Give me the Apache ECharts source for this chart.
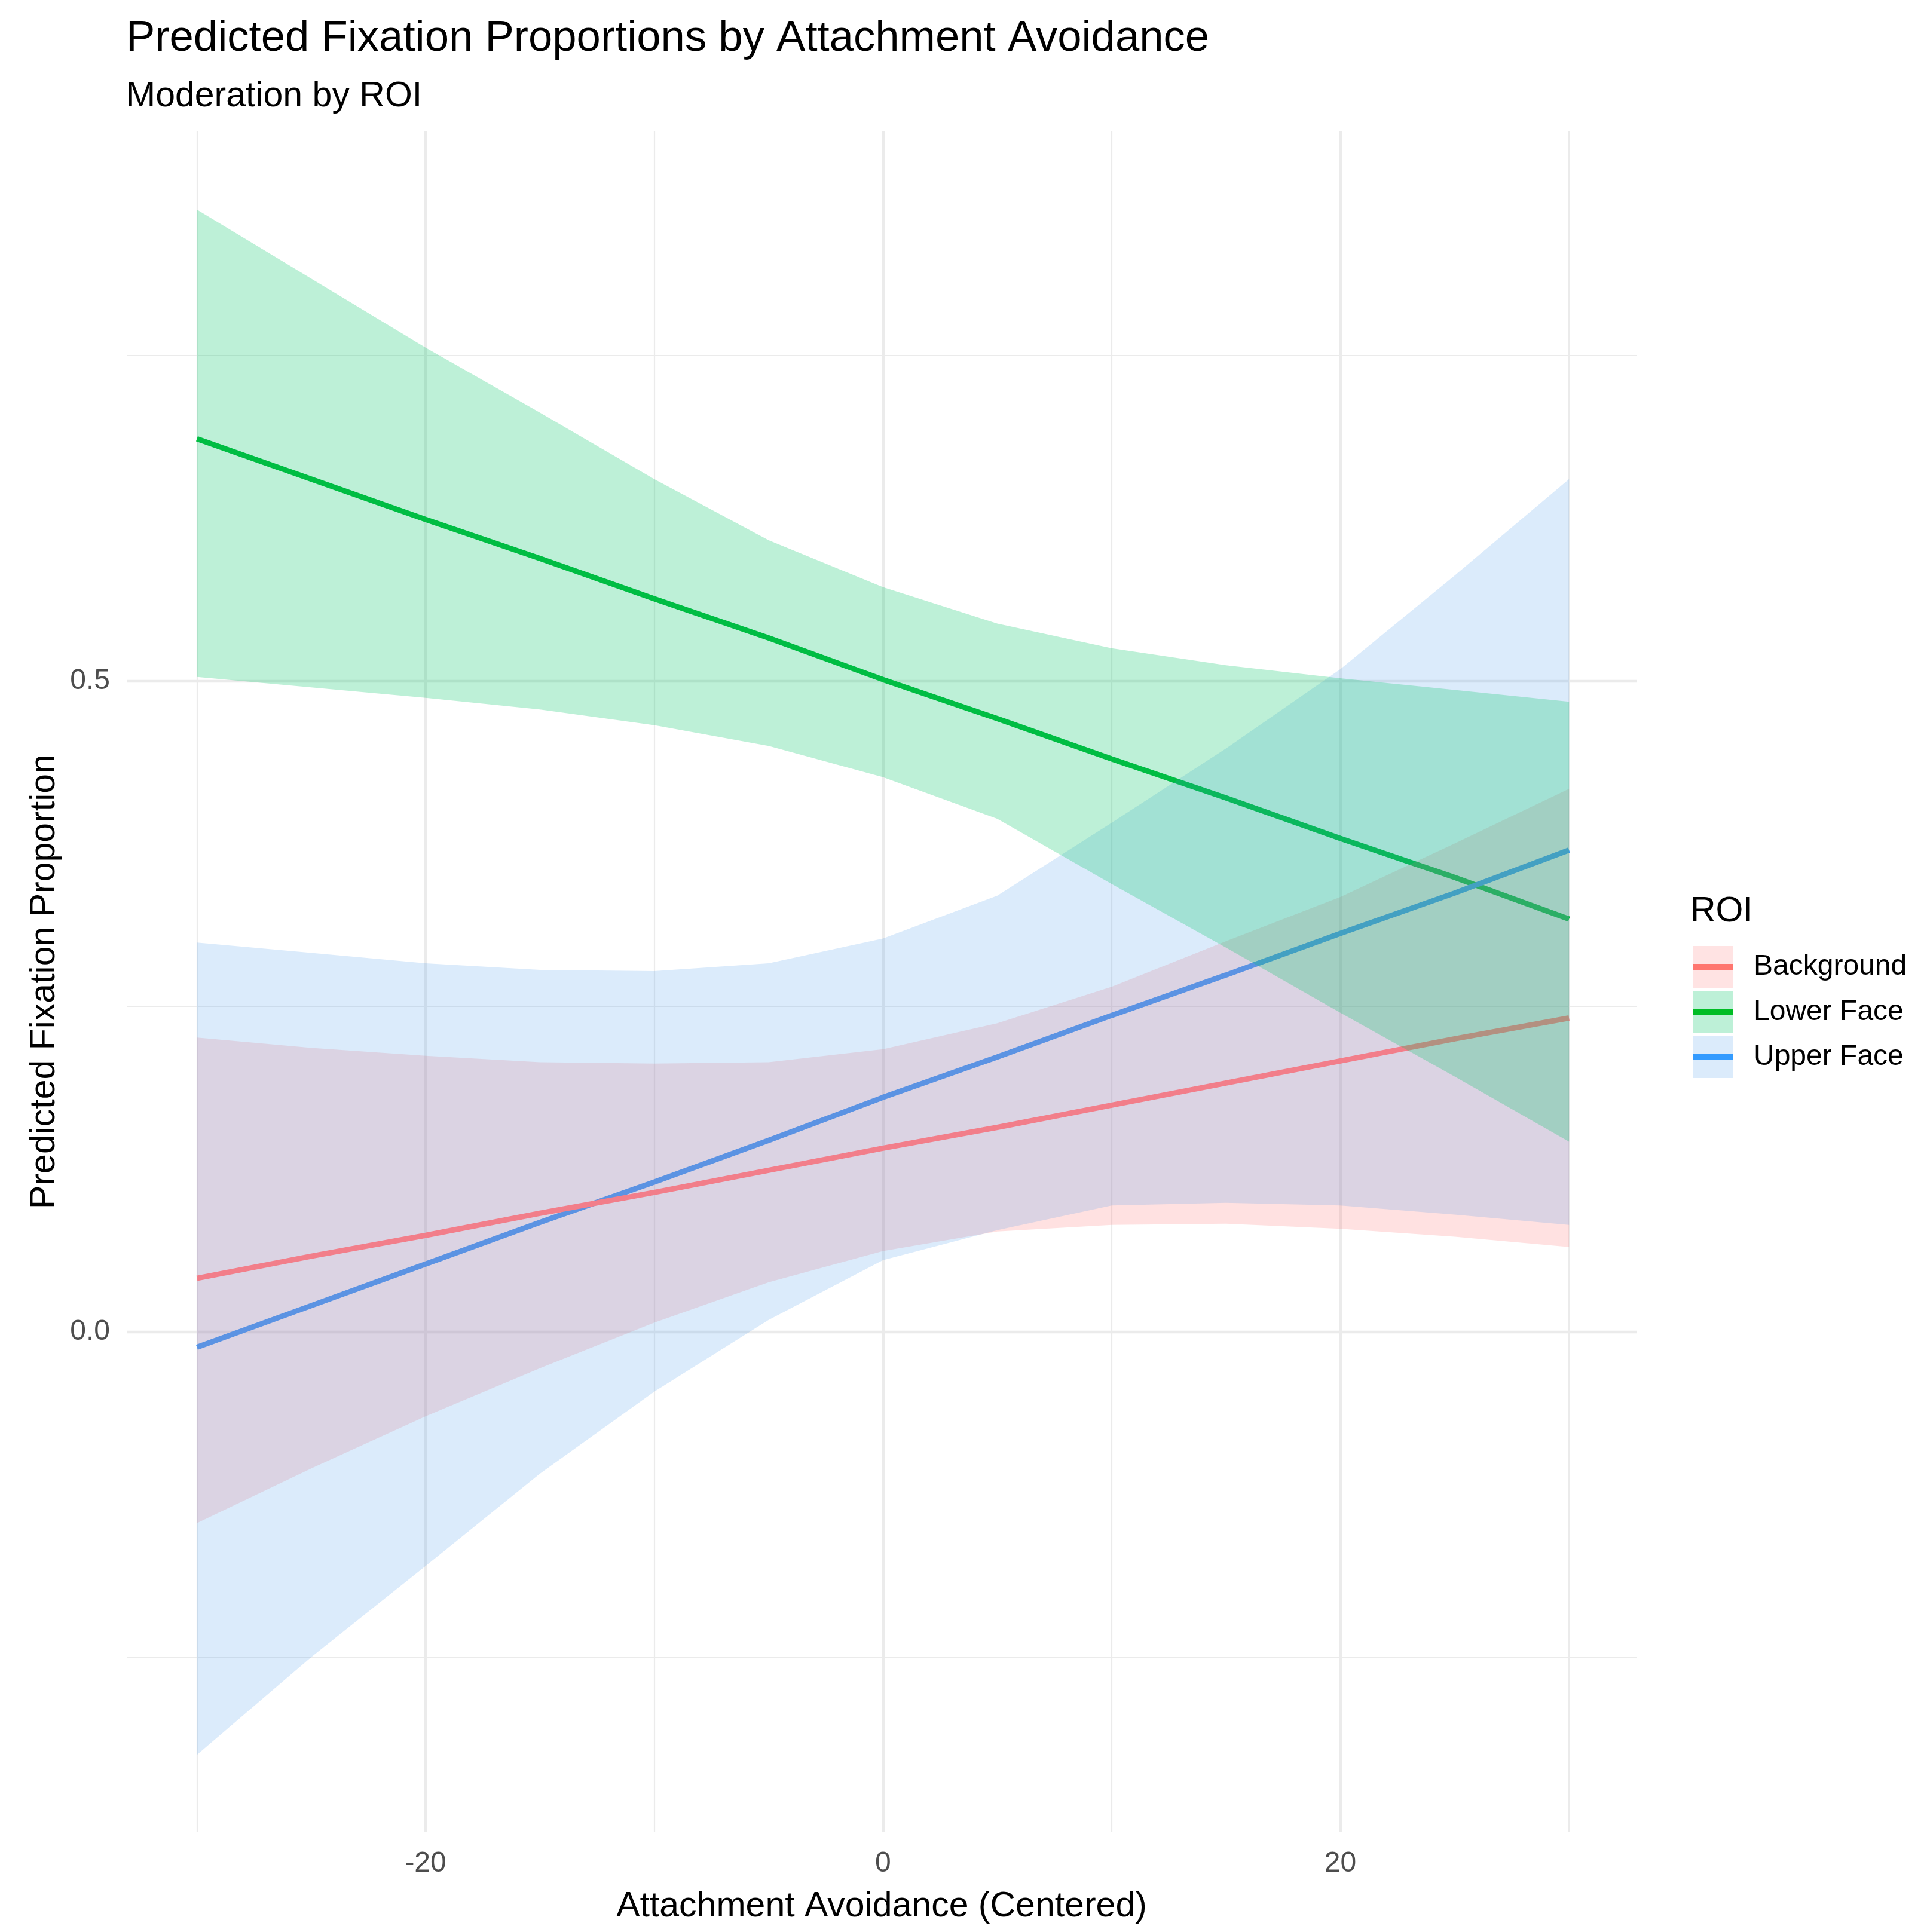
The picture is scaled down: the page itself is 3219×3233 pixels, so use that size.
<!DOCTYPE html>
<html>
<head>
<meta charset="utf-8">
<title>Predicted Fixation Proportions by Attachment Avoidance</title>
<script src="https://cdn.jsdelivr.net/npm/echarts@6.0.0/dist/echarts.min.js"></script>
<style>
  html, body { margin: 0; padding: 0; background: #fff; }
  #main { width: 3219px; height: 3233px; }
</style>
</head>
<body>
<div id="main"></div>
<script>
// x 取值（中心化后的依恋回避）
const avoidance = [-30, -25, -20, -15, -10, -5, 0, 5, 10, 15, 20, 25, 30]

// 预测值（每个 ROI 一条直线）
const backgroundFit = [0.041, 0.058, 0.074, 0.091, 0.107, 0.124, 0.141, 0.157, 0.174, 0.191, 0.208, 0.225, 0.241]
const lowerFaceFit = [0.686, 0.655, 0.624, 0.594, 0.563, 0.533, 0.501, 0.471, 0.440, 0.410, 0.379, 0.349, 0.317]
const upperFaceFit = [-0.012, 0.020, 0.052, 0.084, 0.115, 0.147, 0.180, 0.211, 0.243, 0.274, 0.306, 0.337, 0.370]

// 置信带 下限 / 上限
const backgroundLow = [-0.147, -0.105, -0.065, -0.028, 0.007, 0.038, 0.062, 0.077, 0.082, 0.083, 0.079, 0.073, 0.065]
const backgroundHigh = [0.226, 0.218, 0.212, 0.207, 0.206, 0.207, 0.217, 0.237, 0.265, 0.300, 0.334, 0.375, 0.417]
const lowerFaceLow = [0.503, 0.495, 0.487, 0.478, 0.466, 0.450, 0.426, 0.394, 0.344, 0.295, 0.245, 0.196, 0.146]
const lowerFaceHigh = [0.862, 0.809, 0.756, 0.706, 0.655, 0.608, 0.572, 0.544, 0.525, 0.512, 0.502, 0.493, 0.484]
const upperFaceLow = [-0.325, -0.250, -0.180, -0.109, -0.046, 0.009, 0.055, 0.078, 0.097, 0.099, 0.097, 0.090, 0.082]
const upperFaceHigh = [0.299, 0.291, 0.283, 0.278, 0.277, 0.283, 0.302, 0.335, 0.391, 0.448, 0.509, 0.581, 0.655]

// 类别与刻度
const roiNames = ['Background', 'Lower Face', 'Upper Face']
const xTickLabels = [-20, 0, 20]
const yTickLabels = [0, 0.5]
const xMinorGrid = [-30, -10, 10, 30]
const yMinorGrid = [-0.25, 0.25, 0.75]

const FONT = "'Liberation Sans', Arial, sans-serif"

document.addEventListener('DOMContentLoaded', () => {
  drawChart()
})

// 置信带：用自定义系列画多边形
function band(name, low, high, fill, z) {
  return {
    name: name,
    type: 'custom',
    z: z,
    silent: true,
    itemStyle: { color: fill },
    data: avoidance.map((x, i) => [x, low[i], high[i]]),
    encode: { x: 0, y: [1, 2] },
    renderItem: function (params, api) {
      if (params.dataIndex !== 0) return null
      var pts = []
      for (var i = 0; i < avoidance.length; i++) {
        pts.push(api.coord([avoidance[i], high[i]]))
      }
      for (var j = avoidance.length - 1; j >= 0; j--) {
        pts.push(api.coord([avoidance[j], low[j]]))
      }
      return {
        type: 'polygon',
        shape: { points: pts },
        style: { fill: fill }
      }
    }
  }
}

function fitLine(name, values, color, z) {
  return {
    name: name,
    type: 'line',
    z: z,
    silent: true,
    showSymbol: false,
    data: avoidance.map((x, i) => [x, values[i]]),
    lineStyle: { color: color, width: 9 },
    itemStyle: { color: color }
  }
}

// 图例色块：浅色底 + 中间一条线
function keyFill(fill, line) {
  return {
    type: 'linear', x: 0, y: 0, x2: 0, y2: 1,
    colorStops: [
      { offset: 0, color: fill },
      { offset: 0.43, color: fill },
      { offset: 0.43, color: line },
      { offset: 0.57, color: line },
      { offset: 0.57, color: fill },
      { offset: 1, color: fill }
    ]
  }
}

function drawChart() {
  var chartDom = document.getElementById('main')
  var myChart = echarts.init(chartDom)
  var option

  var gridColor = '#EBEBEB'
  var gridLines = []
  xTickLabels.forEach(v => gridLines.push({ xAxis: v, lineStyle: { width: 4.4 } }))
  xMinorGrid.forEach(v => gridLines.push({ xAxis: v, lineStyle: { width: 2.2 } }))
  yTickLabels.forEach(v => gridLines.push({ yAxis: v, lineStyle: { width: 4.4 } }))
  yMinorGrid.forEach(v => gridLines.push({ yAxis: v, lineStyle: { width: 2.2 } }))

  option = {
    backgroundColor: '#ffffff',
    animation: false,
    textStyle: { fontFamily: FONT },
    title: [
      {
        text: 'Predicted Fixation Proportions by Attachment Avoidance',
        left: 211,
        top: 28,
        padding: 0,
        textStyle: { fontSize: 72.5, fontWeight: 'normal', color: '#000', fontFamily: FONT }
      },
      {
        text: 'Moderation by ROI',
        left: 211,
        top: 132,
        padding: 0,
        textStyle: { fontSize: 59, fontWeight: 'normal', color: '#000', fontFamily: FONT }
      },
      {
        text: 'ROI',
        left: 2828,
        top: 1496,
        padding: 0,
        textStyle: { fontSize: 59, fontWeight: 'normal', color: '#000', fontFamily: FONT }
      }
    ],
    legend: {
      orient: 'vertical',
      left: 2832,
      top: 1583,
      padding: 0,
      itemGap: 5.5,
      itemWidth: 67,
      itemHeight: 70,
      icon: 'rect',
      selectedMode: false,
      textStyle: { fontSize: 48, color: '#000', fontFamily: FONT, padding: [8, 0, 0, 30] },
      data: [
        { name: roiNames[0], itemStyle: { color: keyFill('#FFE3E3', '#FF766F') } },
        { name: roiNames[1], itemStyle: { color: keyFill('#BDF0D7', '#00BD25') } },
        { name: roiNames[2], itemStyle: { color: keyFill('#DBEBFB', '#339BFF') } }
      ]
    },
    grid: {
      left: 212,
      right: 481,
      top: 219,
      bottom: 167
    },
    xAxis: {
      type: 'value',
      min: -33.07,
      max: 32.95,
      name: 'Attachment Avoidance (Centered)',
      nameLocation: 'middle',
      nameGap: 95,
      nameTextStyle: { fontSize: 59, color: '#000', fontFamily: FONT },
      axisLine: { show: false },
      axisTick: { show: false },
      splitLine: { show: false },
      axisLabel: {
        customValues: xTickLabels,
        margin: 29,
        fontSize: 48,
        color: '#4D4D4D',
        fontFamily: FONT
      }
    },
    yAxis: {
      type: 'value',
      min: -0.3845,
      max: 0.9225,
      name: 'Predicted Fixation Proportion',
      nameLocation: 'middle',
      nameGap: 108,
      nameTextStyle: { fontSize: 59, color: '#000', fontFamily: FONT },
      axisLine: { show: false },
      axisTick: { show: false },
      splitLine: { show: false },
      axisLabel: {
        customValues: yTickLabels,
        margin: 28,
        fontSize: 48,
        color: '#4D4D4D',
        fontFamily: FONT,
        formatter: v => v.toFixed(1)
      }
    },
    series: [
      // 置信带放在前面，图例取它们的样式
      band(roiNames[0], backgroundLow, backgroundHigh, 'rgba(255,120,120,0.22)', 3),
      band(roiNames[1], lowerFaceLow, lowerFaceHigh, 'rgba(0,197,101,0.26)', 5),
      band(roiNames[2], upperFaceLow, upperFaceHigh, 'rgba(75,155,235,0.2)', 3),
      fitLine(roiNames[0], backgroundFit, '#F27E8A', 4),
      fitLine(roiNames[1], lowerFaceFit, '#00BA38', 2),
      fitLine(roiNames[2], upperFaceFit, '#3399FF', 2),
      // 网格线
      {
        type: 'line',
        data: [],
        z: 1,
        silent: true,
        markLine: {
          z: 1,
          silent: true,
          symbol: ['none', 'none'],
          label: { show: false },
          lineStyle: { color: gridColor, type: 'solid' },
          emphasis: { disabled: true },
          data: gridLines
        }
      }
    ]
  }

  option && myChart.setOption(option)
}
</script>
</body>
</html>
